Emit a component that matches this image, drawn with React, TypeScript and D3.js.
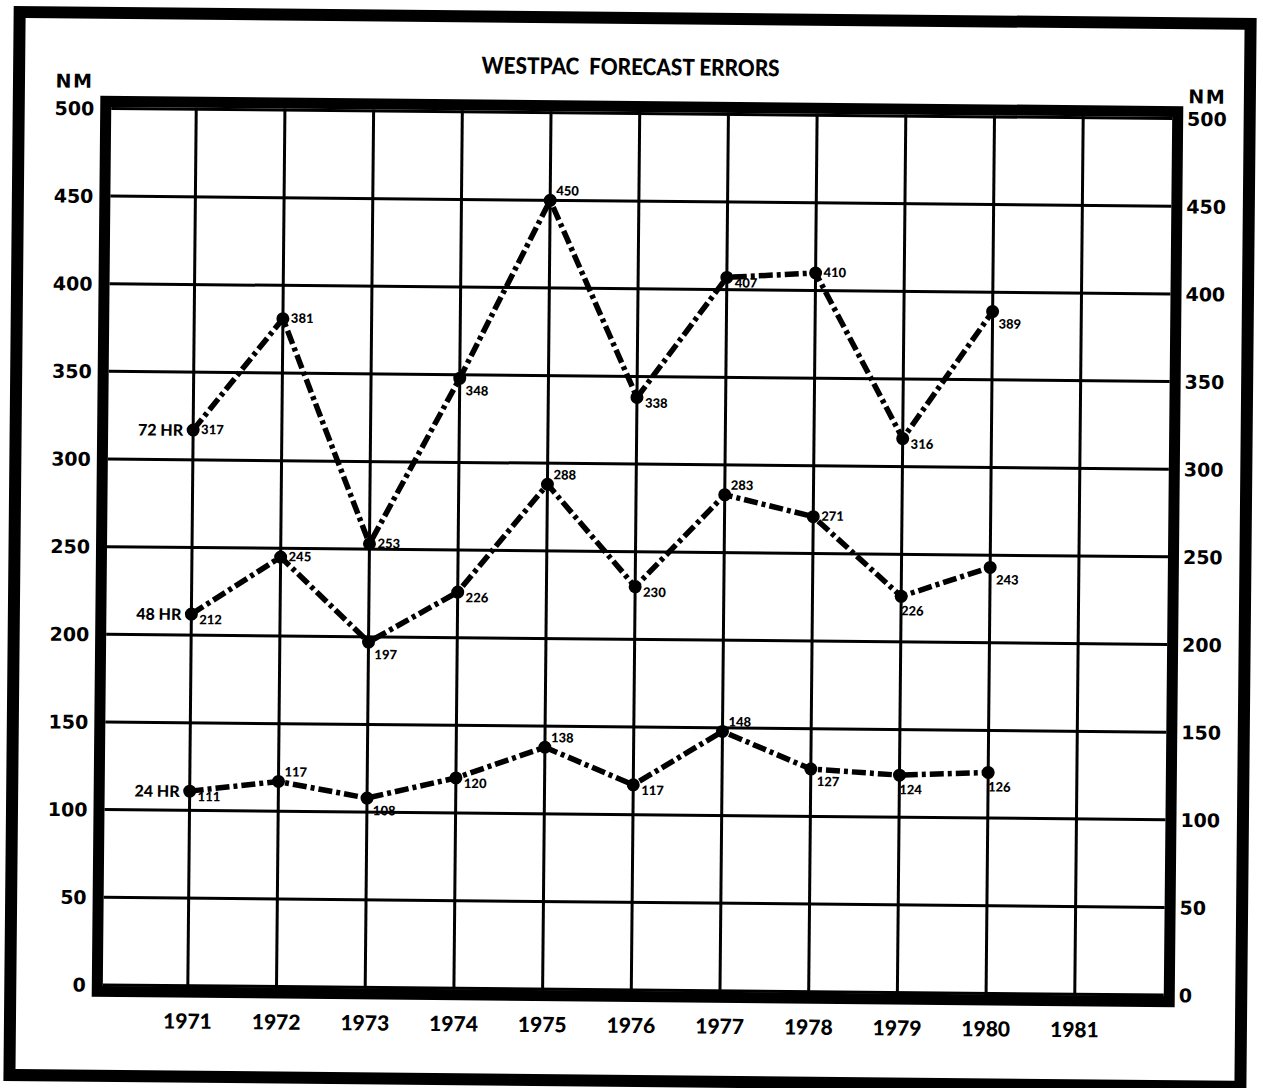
import React from "react";
import * as d3 from "d3";

const years = [1971, 1972, 1973, 1974, 1975, 1976, 1977, 1978, 1979, 1980];
const hr72 = [317, 381, 253, 348, 450, 338, 407, 410, 316, 389];
const hr48 = [212, 245, 197, 226, 288, 230, 283, 271, 226, 243];
const hr24 = [111, 117, 108, 120, 138, 117, 148, 127, 124, 126];
const seriesNames = ["72 HR", "48 HR", "24 HR"];
const yTicks = [0, 50, 100, 150, 200, 250, 300, 350, 400, 450, 500];
const xTicks = [1971, 1972, 1973, 1974, 1975, 1976, 1977, 1978, 1979, 1980, 1981];
const title = "WESTPAC\u00a0\u00a0FORECAST\u00a0ERRORS";
const unitLabel = "NM";

// label placement codes per point
const place72 = ["r", "r", "r", "br", "ar", "rl", "rl", "r", "rl", "br"];
const place48 = ["rl", "r", "br", "rl", "ar", "rl", "ar", "r", "b", "br"];
const place24 = ["rl", "ar", "br", "rl", "ar", "rl", "ar", "br", "b", "b"];

const OFF: Record<string, [number, number]> = {
  r: [8, 4],
  rl: [8, 10],
  br: [6, 17],
  ar: [6, -5],
  b: [0, 19],
};

export default function App() {
  const W = 1263;
  const H = 1088;
  const x = d3.scaleLinear().domain([1971, 1981]).range([192, 1079]);
  const y = d3.scaleLinear().domain([0, 500]).range([990, 113.5]);
  const frame = { x0: 101.5, y0: 106.5, x1: 1173.5, y1: 996.5 };
  const inner = { x0: 107, y0: 112, x1: 1168, y1: 991 };
  const line = d3
    .line<number>()
    .x((_, i) => x(years[i]))
    .y((d) => y(d));

  const series = [
    { name: seriesNames[0], values: hr72, place: place72 },
    { name: seriesNames[1], values: hr48, place: place48 },
    { name: seriesNames[2], values: hr24, place: place24 },
  ];

  const sans = "Lato, 'Open Sans', sans-serif";
  const wide = "'DejaVu Sans', Verdana, sans-serif";

  return (
    <svg
      width={W}
      height={H}
      style={{ position: "absolute", left: 0, top: 0, background: "#fff" }}
    >
      <rect x={0} y={0} width={W} height={H} fill="#fff" />
      <g transform="rotate(0.55 637 552)">
        {/* outer border */}
        <rect
          x={14.5}
          y={18}
          width={1231}
          height={1063}
          fill="none"
          stroke="#000"
          strokeWidth={12}
        />
        {/* title */}
        <text
          x={626}
          y={75}
          textAnchor="middle"
          fontFamily={sans}
          fontWeight={900}
          fontSize={23}
          textLength={298}
          lengthAdjust="spacingAndGlyphs"
        >
          {title}
        </text>
        {/* NM labels */}
        <text
          x={89}
          y={93}
          textAnchor="end"
          fontFamily={wide}
          fontWeight={700}
          fontSize={19}
          letterSpacing={1.5}
        >
          {unitLabel}
        </text>
        <text
          x={1184}
          y={98}
          textAnchor="start"
          fontFamily={wide}
          fontWeight={700}
          fontSize={19}
          letterSpacing={1.5}
        >
          {unitLabel}
        </text>
        {/* horizontal gridlines */}
        {yTicks.map((t) => (
          <line
            key={"h" + t}
            x1={inner.x0}
            x2={inner.x1}
            y1={y(t)}
            y2={y(t)}
            stroke="#000"
            strokeWidth={3}
          />
        ))}
        {/* vertical gridlines */}
        {xTicks.map((t) => (
          <line
            key={"v" + t}
            x1={x(t)}
            x2={x(t)}
            y1={inner.y0}
            y2={inner.y1}
            stroke="#000"
            strokeWidth={3}
          />
        ))}
        {/* frame */}
        <rect
          x={frame.x0}
          y={frame.y0}
          width={frame.x1 - frame.x0}
          height={frame.y1 - frame.y0}
          fill="none"
          stroke="#000"
          strokeWidth={11}
        />
        {/* y tick labels */}
        {yTicks.map((t) => (
          <g key={"yl" + t} fontFamily={wide} fontWeight={700} fontSize={19}>
            <text x={90} y={y(t) + 7} textAnchor="end">
              {t}
            </text>
            <text x={1183} y={y(t) + 7} textAnchor="start">
              {t}
            </text>
          </g>
        ))}
        {/* x tick labels */}
        {xTicks.map((t) => (
          <text
            key={"xl" + t}
            x={x(t)}
            y={1033}
            textAnchor="middle"
            fontFamily={sans}
            fontWeight={900}
            fontSize={21}
          >
            {t}
          </text>
        ))}
        {/* series */}
        {series.map((s) => (
          <g key={s.name}>
            <path
              d={line(s.values) || ""}
              fill="none"
              stroke="#000"
              strokeWidth={5.5}
              strokeDasharray="14,4,4,4"
            />
            {s.values.map((v, i) => (
              <circle key={i} cx={x(years[i])} cy={y(v)} r={6.5} fill="#000" />
            ))}
            {s.values.map((v, i) => {
              const o = OFF[s.place[i]];
              return (
                <text
                  key={"t" + i}
                  x={x(years[i]) + o[0]}
                  y={y(v) + o[1]}
                  fontFamily={sans}
                  fontWeight={900}
                  fontSize={13}
                >
                  {v}
                </text>
              );
            })}
            <text
              x={x(years[0]) - 10}
              y={y(s.values[0]) + 6}
              textAnchor="end"
              fontFamily={sans}
              fontWeight={900}
              fontSize={16}
            >
              {s.name}
            </text>
          </g>
        ))}
      </g>
    </svg>
  );
}
